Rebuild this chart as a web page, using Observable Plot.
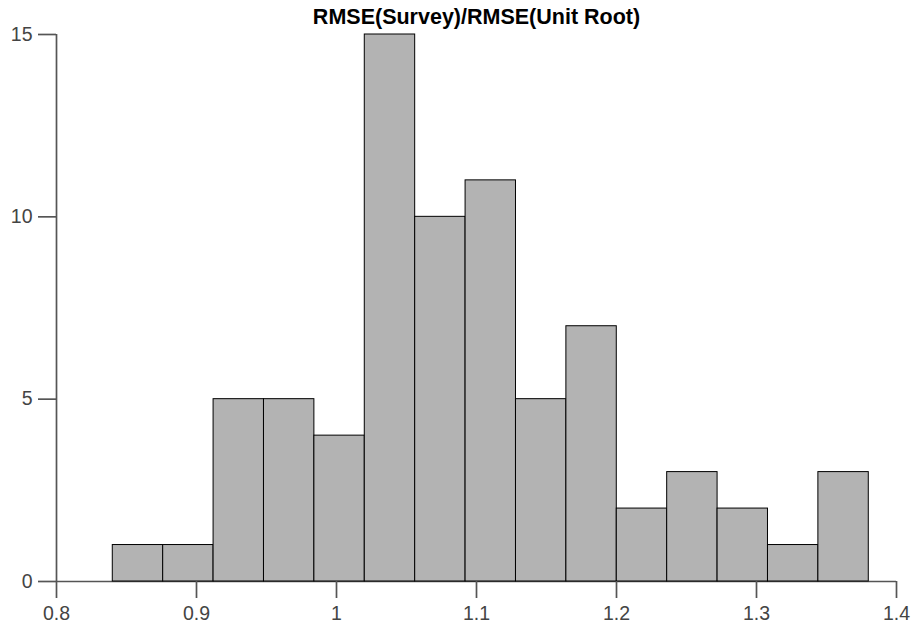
<!DOCTYPE html>
<html>
<head>
<meta charset="utf-8">
<script src="https://cdn.jsdelivr.net/npm/d3@7"></script>
<script src="https://cdn.jsdelivr.net/npm/@observablehq/plot@0.6"></script>
<style>
  html, body { margin: 0; padding: 0; background: #fff; }
</style>
</head>
<body>
<div id="chart"></div>
<script>
// Histogram of RMSE ratios: bin edges and the count in each bin
const binEdges = [0.8402, 0.8762, 0.9122, 0.9482, 0.9842, 1.0202, 1.0562, 1.0922,
                  1.1282, 1.1642, 1.2002, 1.2362, 1.2722, 1.3082, 1.3442, 1.3802];
const counts = [1, 1, 5, 5, 4, 15, 10, 11, 5, 7, 2, 3, 2, 1, 3];
const xTicks = [0.8, 0.9, 1, 1.1, 1.2, 1.3, 1.4];
const yTicks = [0, 5, 10, 15];
const title = "RMSE(Survey)/RMSE(Unit Root)";

const bins = counts.map((c, i) => ({x1: binEdges[i], x2: binEdges[i + 1], count: c}));

const axisColor = "#555";
const labelColor = "#444";

const chart = Plot.plot({
  width: 912,
  height: 627,
  marginLeft: 56,
  marginRight: 16,
  marginTop: 34,
  marginBottom: 46,
  style: {fontFamily: "'Liberation Sans', Arial, Helvetica, sans-serif", fontSize: "19.5px", background: "#fff"},
  x: {domain: [0.8, 1.4], label: null},
  y: {domain: [0, 15], label: null},
  marks: [
    // axis lines (bars are drawn over the baseline)
    Plot.ruleY([0], {stroke: axisColor, strokeWidth: 1.7}),
    Plot.ruleX([0.8], {stroke: axisColor, strokeWidth: 1.7}),
    Plot.rectY(bins, {x1: "x1", x2: "x2", y: "count", fill: "#b3b3b3", stroke: "#000", strokeWidth: 1, inset: 0}),
    Plot.axisY({ticks: yTicks, tickSize: 18, tickPadding: 6, stroke: axisColor, strokeWidth: 1.7, fill: labelColor, fontSize: 19.5, label: null}),
    Plot.axisX({ticks: xTicks, tickSize: 17, tickPadding: 8, tickFormat: d => String(d), stroke: axisColor, strokeWidth: 1.7, fill: labelColor, fontSize: 19.5, label: null}),
    Plot.text([title], {frameAnchor: "top", lineAnchor: "bottom", dy: -11, fontSize: 21.5, fontWeight: "bold", fill: "#000"})
  ]
});

document.getElementById("chart").appendChild(chart);
</script>
</body>
</html>
